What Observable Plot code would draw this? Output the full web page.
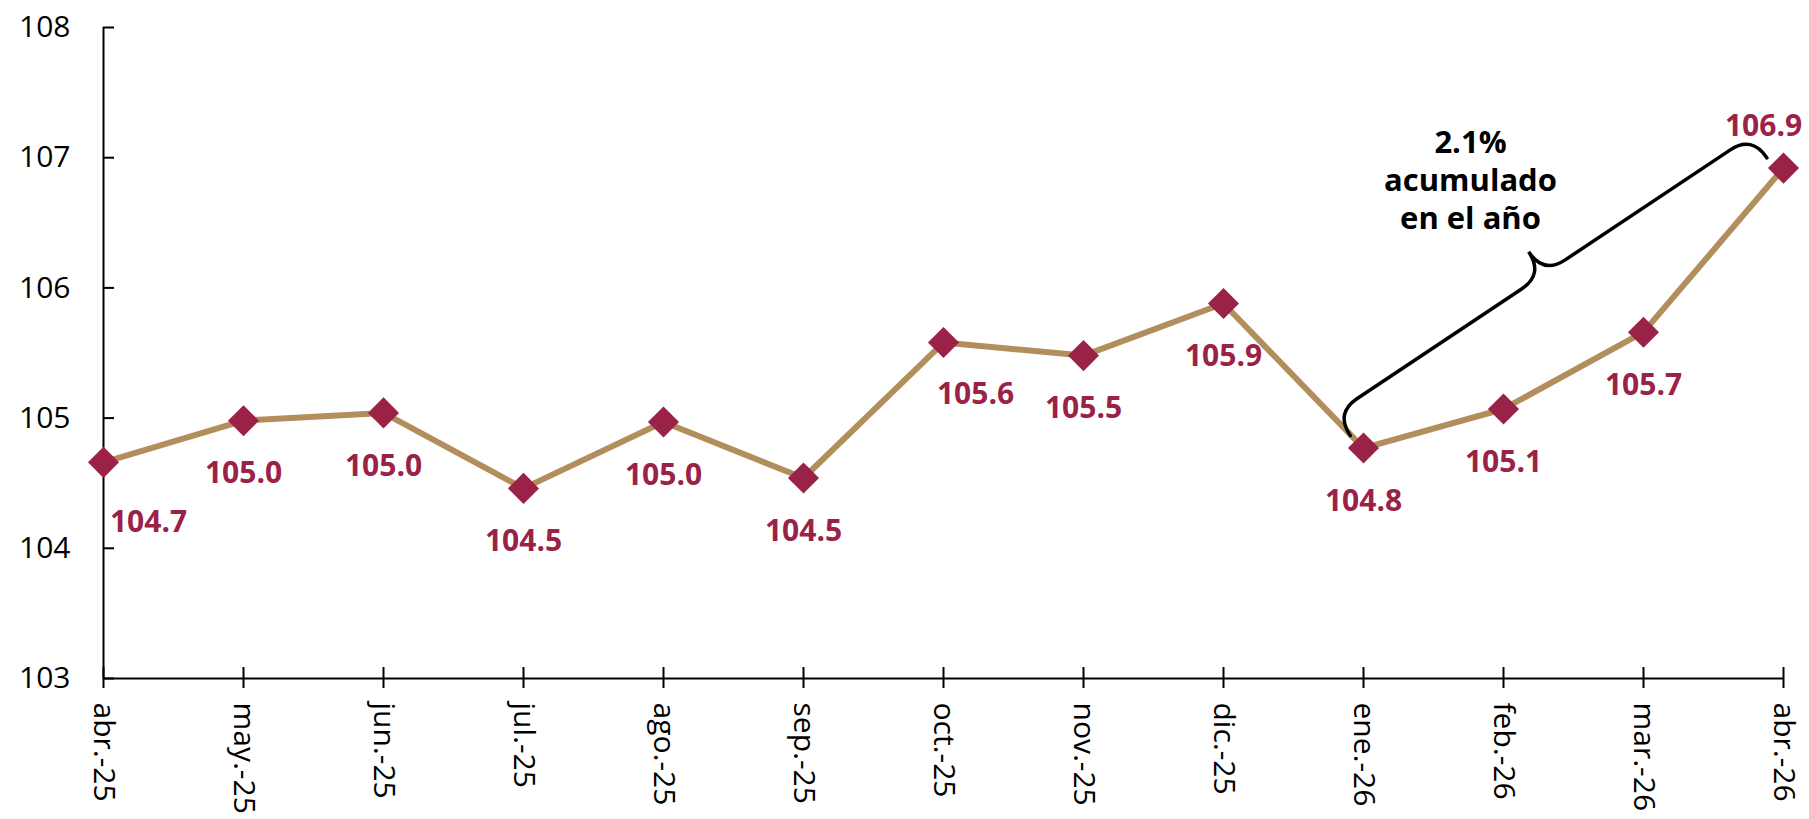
<!DOCTYPE html>
<html><head><meta charset="utf-8">
<script src="https://cdn.jsdelivr.net/npm/d3@7"></script>
<script src="https://cdn.jsdelivr.net/npm/@observablehq/plot@0.6"></script>
<style>body{margin:0;background:#fff} svg{display:block}</style>
</head><body><div id="chart"></div>
<script>
const months = ["abr.-25","may.-25","jun.-25","jul.-25","ago.-25","sep.-25","oct.-25","nov.-25","dic.-25","ene.-26","feb.-26","mar.-26","abr.-26"];
const values = [104.66,104.98,105.04,104.46,104.97,104.54,105.58,105.48,105.88,104.77,105.07,105.66,106.92];
const yTicks = [103,104,105,106,107,108];
const annotationLines = ["2.1%", "acumulado", "en el año"];
const braceFrom = 9, braceTo = 12;

const maroon = "#9b2247", gold = "#b38e5d";
const data = months.map((m, i) => ({month: m, value: values[i], label: values[i].toFixed(1), i}));

function brace(index, scales) {
  const p1 = [scales.x(months[braceFrom]), scales.y(values[braceFrom])];
  const p2 = [scales.x(months[braceTo]), scales.y(values[braceTo])];
  const dx = p2[0] - p1[0], dy = p2[1] - p1[1];
  const len = Math.hypot(dx, dy);
  const u = [dx / len, dy / len], n = [u[1], -u[0]];
  const d = 17;
  const A = [p1[0] + n[0] * d - u[0] * 4, p1[1] + n[1] * d - u[1] * 4];
  const B = [p2[0] + n[0] * d - u[0] * 8, p2[1] + n[1] * d - u[1] * 8];
  const L = Math.hypot(B[0] - A[0], B[1] - A[1]);
  const h = 27, r = 26;
  const P = (s, t) => `${A[0] + u[0] * s + n[0] * t},${A[1] + u[1] * s + n[1] * t}`;
  const m = L / 2;
  const path = `M${P(0,0)} Q${P(0,h)} ${P(r,h)} L${P(m-r,h)} Q${P(m,h)} ${P(m,2*h)} Q${P(m,h)} ${P(m+r,h)} L${P(L-r,h)} Q${P(L,h)} ${P(L,0)}`;
  const g = d3.create("svg:path").attr("d", path).attr("fill", "none").attr("stroke", "#000").attr("stroke-width", 3.5).attr("stroke-linecap", "round");
  return g.node();
}

const annoMarks = annotationLines.map((t, k) =>
  Plot.text([t], {x: () => months[10], y: () => 106.82, text: d => d, dx: -33, dy: (k - 1) * 38, fill: "#000", fontWeight: "bold", fontSize: 31})
);

const chart = Plot.plot({
  width: 1809,
  height: 819,
  marginLeft: 103,
  marginRight: 26,
  marginTop: 27,
  marginBottom: 141,
  style: {fontFamily: "'Open Sans', 'Noto Sans', sans-serif", fontSize: "30px", background: "transparent", color: "#000"},
  x: {type: "point", domain: months, padding: 0},
  y: {domain: [103, 108]},
  marks: [
    Plot.axisY({ticks: yTicks, tickFormat: d3.format("d"), tickSize: 0, tickPadding: 33, label: null, fontSize: 30, fill: "#000"}),
    Plot.axisY({ticks: yTicks, tickSize: 11, dx: 11, text: null, label: null, strokeWidth: 2, stroke: "#000"}),
    Plot.axisX({tickSize: 0, tickPadding: 24, tickRotate: 90, label: null, fontSize: 30, fill: "#000"}),
    Plot.axisX({tickSize: 21, dy: -11, text: null, label: null, strokeWidth: 2, stroke: "#000"}),
    Plot.ruleX([months[0]], {stroke: "#000", strokeWidth: 2}),
    Plot.ruleY([103], {stroke: "#000", strokeWidth: 2}),
    Plot.line(data, {x: "month", y: "value", stroke: gold, strokeWidth: 6}),
    Plot.dot(data, {x: "month", y: "value", symbol: "diamond2", r: 14, fill: maroon, stroke: null}),
    Plot.text(data, {filter: d => d.i === 0, x: "month", y: "value", text: "label", dx: 45, dy: 60, fill: maroon, fontWeight: "bold", fontSize: 30}),
    Plot.text(data, {filter: d => d.i === 6, x: "month", y: "value", text: "label", dx: 32, dy: 52, fill: maroon, fontWeight: "bold", fontSize: 30}),
    Plot.text(data, {filter: d => d.i > 0 && d.i < 12 && d.i !== 6, x: "month", y: "value", text: "label", dy: 53, fill: maroon, fontWeight: "bold", fontSize: 30}),
    Plot.text(data, {filter: d => d.i === 12, x: "month", y: "value", text: "label", dx: -20, dy: -42, fill: maroon, fontWeight: "bold", fontSize: 30}),
    brace,
    ...annoMarks
  ]
});
document.getElementById("chart").appendChild(chart);
</script>
</body></html>
